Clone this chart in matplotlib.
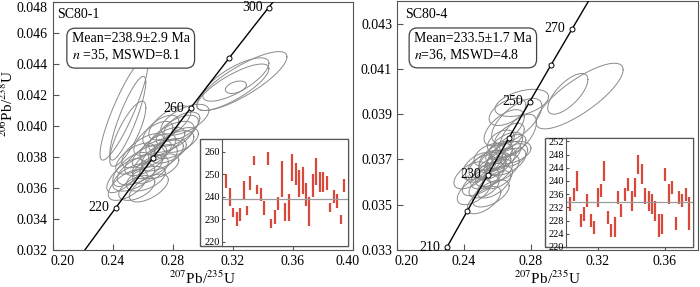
import numpy as np
import matplotlib
matplotlib.use("Agg")
import matplotlib.pyplot as plt
import matplotlib.transforms as mtransforms
from matplotlib.patches import Rectangle

plt.rcParams['font.family'] = ['Liberation Serif', 'DejaVu Serif']
plt.rcParams['mathtext.fontset'] = 'stix'

# Decay constants (1/yr) for the concordia curve
L238 = 1.55125e-10
L235 = 9.8485e-10

# ---------------- SC80-1 ----------------
s1_name = "SC80-1"
s1_mean = "Mean=238.9±2.9 Ma"
s1_stats = r"$n$ =35, MSWD=8.1"
s1_mean_age = 238.9
s1_marker_ages = [220, 240, 260, 280, 300]
s1_label_ages = [220, 260, 300]

# ellipse centres (207/235, 206/238), half widths, correlation
s1_cx = [0.2475, 0.250, 0.250, 0.326, 0.322, 0.322, 0.320, 0.288,
         0.250, 0.254, 0.256, 0.258, 0.262, 0.262, 0.265, 0.266, 0.268,
         0.270, 0.271, 0.273, 0.275, 0.277, 0.279, 0.281, 0.283, 0.286,
         0.260, 0.255, 0.252, 0.267, 0.272, 0.285, 0.264, 0.248, 0.278]
s1_cy = [0.0411, 0.0405, 0.0395, 0.0429, 0.0430, 0.0425, 0.0425, 0.0404,
         0.0362, 0.0367, 0.0360, 0.0372, 0.0366, 0.0378, 0.0372, 0.0382, 0.0377,
         0.0386, 0.0374, 0.0381, 0.0390, 0.0384, 0.0393, 0.0388, 0.0397, 0.0400,
         0.0384, 0.0379, 0.0372, 0.0392, 0.0397, 0.0391, 0.0360, 0.0368, 0.0402]
s1_sx = [0.016, 0.012, 0.012, 0.030, 0.022, 0.007, 0.024, 0.016,
         0.013, 0.014, 0.012, 0.015, 0.013, 0.014, 0.012, 0.013, 0.015,
         0.012, 0.013, 0.014, 0.013, 0.012, 0.015, 0.013, 0.014, 0.012,
         0.014, 0.013, 0.012, 0.013, 0.012, 0.012, 0.013, 0.012, 0.014]
s1_sy = [0.0033, 0.0027, 0.0021, 0.0019, 0.0014, 0.0004, 0.0015, 0.0010,
         0.0010, 0.0009, 0.0008, 0.0010, 0.0008, 0.0010, 0.0009, 0.0009, 0.0011,
         0.0009, 0.0008, 0.0010, 0.0009, 0.0008, 0.0010, 0.0009, 0.0010, 0.0009,
         0.0011, 0.0010, 0.0011, 0.0011, 0.0010, 0.0008, 0.0009, 0.0011, 0.0011]
s1_rho = [0.88, 0.86, 0.80, 0.82, 0.75, 0.40, 0.80, 0.60,
          0.60, 0.55, 0.50, 0.60, 0.50, 0.60, 0.55, 0.60, 0.65,
          0.55, 0.50, 0.60, 0.60, 0.50, 0.60, 0.55, 0.60, 0.55,
          0.65, 0.60, 0.65, 0.65, 0.60, 0.50, 0.60, 0.70, 0.65]

# weighted mean inset: 206Pb/238U ages (Ma), lower / upper ends
s1_age_lo = [244, 236, 231, 227, 229, 239, 232, 243, 254, 241, 238, 232,
             254, 226, 228, 234, 240, 229, 229, 247, 245, 240, 241, 236,
             227, 240, 245, 242, 242, 243, 233, 237, 235, 228, 242]
s1_age_hi = [250, 244, 235, 233, 235, 247, 236, 249, 258, 245, 244, 238,
             260, 230, 234, 240, 256, 237, 241, 259, 255, 252, 253, 246,
             240, 250, 257, 251, 251, 249, 237, 243, 241, 232, 248]

# ---------------- SC80-4 ----------------
s4_name = "SC80-4"
s4_mean = "Mean=233.5±1.7 Ma"
s4_stats = r"$n$=36, MSWD=4.8"
s4_mean_age = 233.5
s4_marker_ages = [210, 220, 230, 240, 250, 260, 270, 280, 290]
s4_label_ages = [210, 230, 250, 270]

s4_cx = [0.309, 0.302, 0.2745, 0.2715, 0.2723, 0.266, 0.264, 0.268,
         0.246, 0.250, 0.252, 0.244, 0.254, 0.256, 0.258, 0.260, 0.262,
         0.264, 0.261, 0.259, 0.257, 0.263, 0.266, 0.268, 0.255, 0.253,
         0.250, 0.248, 0.260, 0.265, 0.262, 0.258, 0.256, 0.270, 0.252, 0.267]
s4_cy = [0.0398, 0.0399, 0.0395, 0.0387, 0.0381, 0.0391, 0.0384, 0.0373,
         0.0356, 0.0360, 0.0358, 0.0363, 0.0363, 0.0366, 0.0364, 0.0368, 0.0370,
         0.0372, 0.0373, 0.0371, 0.0369, 0.0366, 0.0369, 0.0376, 0.0372, 0.0368,
         0.0366, 0.0367, 0.0362, 0.0376, 0.0378, 0.0359, 0.0355, 0.0372, 0.0352, 0.0380]
s4_sx = [0.026, 0.012, 0.016, 0.015, 0.011, 0.011, 0.012, 0.012,
         0.010, 0.011, 0.009, 0.010, 0.010, 0.009, 0.011, 0.008, 0.009,
         0.010, 0.008, 0.010, 0.008, 0.010, 0.011, 0.009, 0.009, 0.010,
         0.009, 0.009, 0.009, 0.010, 0.008, 0.010, 0.011, 0.008, 0.010, 0.009]
s4_sy = [0.00145, 0.0009, 0.0006, 0.0010, 0.0009, 0.0006, 0.0008, 0.0005,
         0.0006, 0.0006, 0.0005, 0.0006, 0.0006, 0.0005, 0.0006, 0.0005, 0.0005,
         0.0006, 0.0005, 0.0006, 0.0005, 0.0006, 0.0006, 0.0005, 0.0005, 0.0006,
         0.0006, 0.0006, 0.0005, 0.0006, 0.0005, 0.0006, 0.0006, 0.0005, 0.0006, 0.0006]
s4_rho = [0.80, 0.70, 0.45, 0.65, 0.60, 0.50, 0.60, 0.40,
          0.55, 0.60, 0.50, 0.55, 0.55, 0.50, 0.60, 0.45, 0.55,
          0.55, 0.45, 0.55, 0.45, 0.55, 0.55, 0.50, 0.45, 0.60,
          0.50, 0.55, 0.50, 0.55, 0.45, 0.60, 0.55, 0.45, 0.60, 0.55]

s4_age_lo = [231, 234, 237, 226, 228, 232, 226, 224, 232, 235, 240, 227,
             223, 223, 233, 229, 234, 237, 231, 235, 242, 239, 233, 231,
             230, 228, 223, 224, 240, 233, 236, 225, 233, 232, 234, 225]
s4_age_hi = [235, 238, 243, 230, 232, 236, 230, 228, 238, 239, 246, 231,
             227, 229, 237, 233, 238, 241, 237, 241, 248, 245, 238, 237,
             236, 234, 230, 230, 244, 239, 240, 229, 237, 236, 238, 235]

ELL_COLOR = "#8a8a8a"
BAR_COLOR = "#d8493c"
SPINE_COLOR = "#555555"


def concordia(age_ma):
    t = np.asarray(age_ma, dtype=float) * 1e6
    return np.exp(L235 * t) - 1, np.exp(L238 * t) - 1


def draw_panel(ax, cx, cy, sx, sy, rho, marker_ages, label_ages, label_dx):
    tt = np.linspace(0, 2 * np.pi, 160)
    for i in range(len(cx)):
        ex = cx[i] + sx[i] * np.cos(tt)
        ey = cy[i] + sy[i] * (rho[i] * np.cos(tt) + np.sqrt(1 - rho[i] ** 2) * np.sin(tt))
        ax.plot(ex, ey, color=ELL_COLOR, lw=0.7, zorder=2)
    xs, ys = concordia(np.linspace(100, 450, 400))
    ax.plot(xs, ys, color="black", lw=1.0, zorder=3)
    mx, my = concordia(marker_ages)
    ax.plot(mx, my, 'o', ms=3.6, mfc="white", mec="black", mew=0.7, zorder=4)
    lx, ly = concordia(label_ages)
    for a, x, y in zip(label_ages, lx, ly):
        ax.text(x - label_dx, y, str(a), fontsize=10, ha="right", va="center", zorder=5)
    for s in ax.spines.values():
        s.set_color(SPINE_COLOR)
    ax.tick_params(direction="in", length=4, color=SPINE_COLOR, labelsize=10)
    ax.set_xlabel(r"$^{207}$Pb/$^{235}$U", fontsize=11, labelpad=1)


def shift_label(fig, lab, dx_px, dy_px):
    off = mtransforms.ScaledTranslation(dx_px / 100, dy_px / 100, fig.dpi_scale_trans)
    lab.set_transform(lab.get_transform() + off)


def draw_inset(fig, main_ax, frame_rect, inner_rect, lo, hi, mean_age, ylim, yticks):
    main_ax.add_patch(Rectangle(frame_rect[:2], frame_rect[2], frame_rect[3],
                                transform=fig.transFigure, facecolor="white",
                                edgecolor=SPINE_COLOR, lw=1.0, zorder=10, clip_on=False))
    ins = fig.add_axes(inner_rect)
    idx = np.arange(1, len(lo) + 1)
    ins.vlines(idx, lo, hi, color=BAR_COLOR, lw=1.6)
    ins.axhline(mean_age, color="#9a9a9a", lw=0.9)
    ins.set_xlim(-0.3, len(lo) + 1.1)
    ins.set_ylim(*ylim)
    ins.set_yticks(yticks)
    ins.set_xticks([])
    ins.tick_params(direction="in", length=2, labelsize=7.5, pad=1.5, color=SPINE_COLOR)
    for s in ins.spines.values():
        s.set_color(SPINE_COLOR)
    return ins


fig = plt.figure(figsize=(7.0, 2.87), dpi=100)

ax1 = fig.add_axes([0.0753, 0.1289, 0.429, 0.8641])
draw_panel(ax1, s1_cx, s1_cy, s1_sx, s1_sy, s1_rho, s1_marker_ages, s1_label_ages, 0.004)
ax1.set_xlim(0.20, 0.40)
ax1.set_ylim(0.032, 0.048)
ax1.set_xticks([0.20, 0.24, 0.28, 0.32, 0.36, 0.40])
ax1.set_xticklabels(["0.20", "0.24", "0.28", "0.32", "0.36", "0.40"])
ax1.set_yticks(np.arange(0.032, 0.0481, 0.002))
ax1.set_yticklabels([f"{v:.3f}" for v in np.arange(0.032, 0.0481, 0.002)])
ax1.get_yticklabels()[-1].set_va("top")
ax1.get_xticklabels()[0].set_ha("left")
shift_label(fig, ax1.get_xticklabels()[0], -2, 0)
shift_label(fig, ax1.get_xticklabels()[-1], -5, 0)
ax1.set_ylabel(r"$^{206}$Pb/$^{238}$U", fontsize=11)
ax1.yaxis.set_label_coords(-0.122, 0.59)
ax1.text(0.014, 0.976, s1_name, transform=ax1.transAxes, fontsize=10, va="top")
ax1.text(0.0633, 0.878, s1_mean + "\n" + s1_stats, transform=ax1.transAxes, fontsize=10,
         va="top", linespacing=1.2,
         bbox=dict(boxstyle="round,pad=0.35,rounding_size=0.6", fc="white", ec="#444444", lw=0.9))
draw_inset(fig, ax1, [0.2857, 0.1429, 0.2114, 0.3728], [0.3167, 0.1429, 0.1804, 0.3728],
           s1_age_lo, s1_age_hi, s1_mean_age, (218.1, 265.6), [220, 230, 240, 250, 260])

ax2 = fig.add_axes([0.5671, 0.1289, 0.430, 0.8676])
draw_panel(ax2, s4_cx, s4_cy, s4_sx, s4_sy, s4_rho, s4_marker_ages, s4_label_ages, 0.004)
ax2.set_xlim(0.20, 0.3797)
ax2.set_ylim(0.033, 0.044)
ax2.set_xticks([0.20, 0.24, 0.28, 0.32, 0.36])
ax2.set_xticklabels(["0.20", "0.24", "0.28", "0.32", "0.36"])
ax2.get_xticklabels()[0].set_ha("left")
shift_label(fig, ax2.get_xticklabels()[0], -2, 0)
ax2.set_yticks([0.033, 0.035, 0.037, 0.039, 0.041, 0.043])
ax2.set_yticklabels(["0.033", "0.035", "0.037", "0.039", "0.041", "0.043"])
ax2.text(0.027, 0.972, s4_name, transform=ax2.transAxes, fontsize=10, va="top")
ax2.text(0.0565, 0.8755, s4_mean + "\n" + s4_stats, transform=ax2.transAxes, fontsize=10,
         va="top", linespacing=1.2,
         bbox=dict(boxstyle="round,pad=0.35,rounding_size=0.6", fc="white", ec="#444444", lw=0.9))
draw_inset(fig, ax2, [0.7786, 0.1394, 0.2114, 0.3798], [0.8086, 0.1394, 0.1814, 0.3798],
           s4_age_lo, s4_age_hi, s4_mean_age, (220.0, 253.0),
           [220, 224, 228, 232, 236, 240, 244, 248, 252])

fig.savefig("out.png", dpi=100)
